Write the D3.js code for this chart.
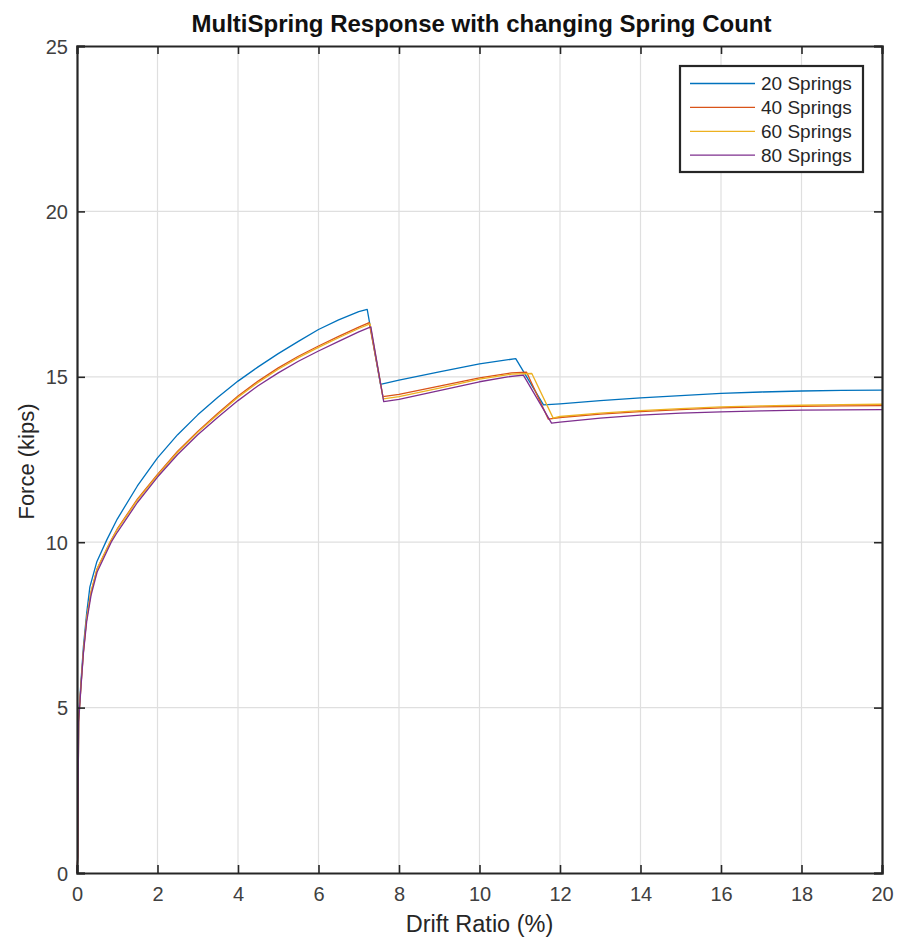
<!DOCTYPE html>
<html>
<head>
<meta charset="utf-8">
<script src="https://cdn.jsdelivr.net/npm/d3@7"></script>
<style>
  html, body { margin: 0; padding: 0; background: #fff; }
  svg { display: block; font-family: "Liberation Sans", Arial, sans-serif; }
</style>
</head>
<body>
<svg id="chart" width="898" height="940"></svg>
<script>
const chartTitle = "MultiSpring Response with changing Spring Count";
const xLabel = "Drift Ratio (%)";
const yLabel = "Force (kips)";
const xTicks = [0, 2, 4, 6, 8, 10, 12, 14, 16, 18, 20];
const yTicks = [0, 5, 10, 15, 20, 25];
const seriesNames = ["20 Springs", "40 Springs", "60 Springs", "80 Springs"];
const seriesColors = ["#0072BD", "#D95319", "#EDB120", "#7E2F8E"];

const springs20 = [[0,0],[0.02,0.5],[0.03,2.7],[0.04,4.7],[0.1,5.8],[0.16,6.85],[0.24,7.85],[0.32,8.65],[0.49,9.4],[0.74,10.07],[1.0,10.7],[1.5,11.7],[2.0,12.55],[2.5,13.25],[3.0,13.85],[3.5,14.38],[4.0,14.87],[4.5,15.3],[5.0,15.7],[5.5,16.07],[6.0,16.43],[6.5,16.72],[7.0,16.97],[7.21,17.04],[7.54,14.77],[8,14.9],[9,15.15],[10,15.39],[10.9,15.55],[11.59,14.15],[12,14.18],[13,14.28],[14,14.36],[15,14.43],[16,14.5],[17,14.54],[18,14.57],[19,14.59],[20,14.6]];
const springs40 = [[0,0],[0.02,0.5],[0.03,2.7],[0.04,4.6],[0.1,5.7],[0.16,6.7],[0.24,7.7],[0.35,8.5],[0.5,9.2],[0.82,10.0],[1.0,10.4],[1.5,11.3],[2.0,12.05],[2.5,12.75],[3.0,13.35],[3.5,13.9],[4.0,14.42],[4.5,14.87],[5.0,15.27],[5.5,15.62],[6.0,15.93],[6.5,16.22],[7.0,16.5],[7.26,16.64],[7.6,14.4],[8,14.47],[9,14.72],[10,14.97],[10.8,15.12],[11.17,15.14],[11.71,13.72],[12,13.77],[13,13.87],[14,13.95],[15,14.01],[16,14.06],[17,14.09],[18,14.11],[19,14.12],[20,14.13]];
const springs60 = [[0,0],[0.02,0.5],[0.03,2.7],[0.04,4.6],[0.1,5.7],[0.16,6.7],[0.24,7.7],[0.35,8.5],[0.5,9.2],[0.82,10.0],[1.0,10.38],[1.5,11.27],[2.0,12.02],[2.5,12.72],[3.0,13.32],[3.5,13.86],[4.0,14.38],[4.5,14.83],[5.0,15.23],[5.5,15.58],[6.0,15.89],[6.5,16.18],[7.0,16.46],[7.28,16.6],[7.61,14.33],[8,14.4],[9,14.66],[10,14.93],[10.8,15.08],[11.3,15.1],[11.83,13.75],[12,13.8],[13,13.9],[14,13.98],[15,14.04],[16,14.09],[17,14.12],[18,14.14],[19,14.16],[20,14.17]];
const springs80 = [[0,0],[0.02,0.5],[0.03,2.7],[0.04,4.55],[0.1,5.65],[0.16,6.65],[0.24,7.6],[0.35,8.4],[0.5,9.1],[0.85,10.0],[1.0,10.3],[1.5,11.2],[2.0,11.97],[2.5,12.65],[3.0,13.25],[3.5,13.78],[4.0,14.28],[4.5,14.73],[5.0,15.12],[5.5,15.47],[6.0,15.78],[6.5,16.07],[7.0,16.36],[7.3,16.51],[7.62,14.25],[8,14.32],[9,14.58],[10,14.85],[10.7,15.0],[11.09,15.05],[11.79,13.6],[12,13.63],[13,13.75],[14,13.84],[15,13.9],[16,13.94],[17,13.97],[18,13.99],[19,14.0],[20,14.01]];
const seriesData = [springs20, springs40, springs60, springs80];

const svg = d3.select("#chart");
const margin = { left: 77, right: 16, top: 46, bottom: 67 };
const W = 898, H = 940;
const x = d3.scaleLinear().domain([0, 20]).range([margin.left, W - margin.right]);
const y = d3.scaleLinear().domain([0, 25]).range([H - margin.bottom, margin.top]);
const textColor = "#262626";

// grid
svg.append("g").selectAll("line.vg").data(xTicks.slice(1, -1)).join("line")
  .attr("x1", d => x(d)).attr("x2", d => x(d))
  .attr("y1", y(0)).attr("y2", y(25))
  .attr("stroke", "#dfdfdf").attr("stroke-width", 1.2);
svg.append("g").selectAll("line.hg").data(yTicks.slice(1, -1)).join("line")
  .attr("x1", x(0)).attr("x2", x(20))
  .attr("y1", d => y(d)).attr("y2", d => y(d))
  .attr("stroke", "#dfdfdf").attr("stroke-width", 1.2);

// lines
const line = d3.line().x(d => x(d[0])).y(d => y(d[1]));
seriesData.forEach((s, i) => {
  svg.append("path").datum(s).attr("d", line)
    .attr("fill", "none").attr("stroke", seriesColors[i]).attr("stroke-width", 1.3)
    .attr("stroke-linejoin", "round");
});

// axes (ticks inward)
const xAxis = d3.axisBottom(x).tickValues(xTicks).tickSize(-8).tickPadding(14).tickFormat(d3.format("d"));
const yAxis = d3.axisLeft(y).tickValues(yTicks).tickSize(-8).tickPadding(9).tickFormat(d3.format("d"));
const gx = svg.append("g").attr("transform", `translate(0,${y(0)})`).call(xAxis);
const gy = svg.append("g").attr("transform", `translate(${x(0)},0)`).call(yAxis);
const gxTop = svg.append("g").attr("transform", `translate(0,${y(25)})`).call(d3.axisTop(x).tickValues(xTicks).tickSize(-8).tickFormat(""));
const gyRight = svg.append("g").attr("transform", `translate(${x(20)},0)`).call(d3.axisRight(y).tickValues(yTicks).tickSize(-8).tickFormat(""));
[gx, gy, gxTop, gyRight].forEach(g => {
  g.select(".domain").attr("stroke", textColor).attr("stroke-width", 2.2);
  g.selectAll(".tick line").attr("stroke", textColor).attr("stroke-width", 1.6);
  g.selectAll(".tick text").attr("fill", "#404040").attr("font-size", 20)
    .attr("font-family", "'Liberation Sans', Arial, sans-serif");
});
gx.selectAll(".tick text").attr("y", 14).attr("dy", "0.71em");
gy.selectAll(".tick text").attr("dy", "0.35em");

// title & labels
svg.append("text").attr("x", (x(0) + x(20)) / 2 + 2).attr("y", 32)
  .attr("text-anchor", "middle").attr("font-weight", "bold").attr("font-size", 24)
  .attr("fill", "#111").text(chartTitle);
svg.append("text").attr("x", (x(0) + x(20)) / 2).attr("y", 932)
  .attr("text-anchor", "middle").attr("font-size", 23.5).attr("fill", textColor).text(xLabel);
svg.append("text").attr("transform", `translate(34,${(y(0) + y(25)) / 2 + 2}) rotate(-90)`)
  .attr("text-anchor", "middle").attr("font-size", 22).attr("fill", textColor).text(yLabel);

// legend
const lg = svg.append("g");
lg.append("rect").attr("x", 680).attr("y", 66).attr("width", 183).attr("height", 106)
  .attr("fill", "#fff").attr("stroke", textColor).attr("stroke-width", 2.2);
seriesNames.forEach((n, i) => {
  const yy = 83.5 + i * 23.9;
  lg.append("line").attr("x1", 690).attr("x2", 755).attr("y1", yy).attr("y2", yy)
    .attr("stroke", seriesColors[i]).attr("stroke-width", 1.3);
  lg.append("text").attr("x", 761).attr("y", yy).attr("dy", "0.36em")
    .attr("font-size", 19).attr("fill", textColor).text(n);
});
</script>
</body>
</html>
